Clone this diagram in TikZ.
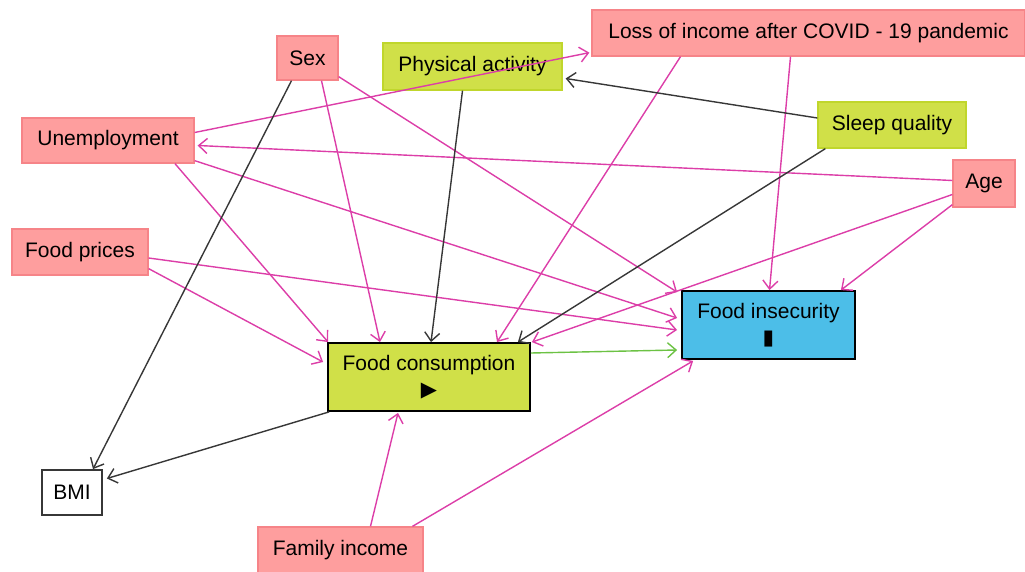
\documentclass[tikz,border=0pt]{standalone}
\usepackage{fontspec}
\setmainfont{Liberation Sans}
\newfontfamily\symb{DejaVu Sans}
\usetikzlibrary{arrows.meta}
\definecolor{confill}{RGB}{254,158,158}
\definecolor{condraw}{RGB}{246,132,136}
\definecolor{ancfill}{RGB}{208,224,72}
\definecolor{ancdraw}{RGB}{192,214,44}
\definecolor{outfill}{RGB}{76,190,232}
\definecolor{biasline}{RGB}{220,62,168}
\definecolor{darkline}{RGB}{55,55,55}
\definecolor{causeline}{RGB}{108,194,68}
\tikzset{var/.style={draw,line width=1.3pt,inner sep=0pt,align=center,font=\fontsize{21}{26}\selectfont},
  conf/.style={var,fill=confill,draw=condraw},
  anc/.style={var,fill=ancfill,draw=ancdraw},
  expo/.style={var,fill=ancfill,draw=black,line width=1.8pt},
  outc/.style={var,fill=outfill,draw=black,line width=1.8pt},
  other/.style={var,fill=white,draw=darkline,line width=1.8pt},
  bias/.style={->,biasline,line width=1.4pt},
  arr/.style={->,darkline,line width=1.4pt},
  causal/.style={->,causeline,line width=1.4pt}}

\begin{document}
\begin{tikzpicture}[x=1pt,y=-1pt,>={Straight Barb[length=8.5pt,width=15pt]}]
\useasboundingbox (0,0) rectangle (1025,572);
% variables
\node[conf,minimum width=61,minimum height=44] (sex) at (307.5,58) {Sex};
\node[anc,minimum width=179,minimum height=47] (pa) at (472.5,66.5) {Physical activity};
\node[conf,minimum width=433,minimum height=46] (loss) at (808.5,33) {Loss of income after COVID - 19 pandemic};
\node[conf,minimum width=172,minimum height=45] (unemp) at (108,140.5) {Unemployment};
\node[anc,minimum width=148,minimum height=46] (sleep) at (892,125) {Sleep quality};
\node[conf,minimum width=62,minimum height=47] (age) at (984,183.5) {Age};
\node[conf,minimum width=136,minimum height=46] (prices) at (80,252) {Food prices};
\node[outc,minimum width=173,minimum height=68] (fi) at (768.5,325) {Food insecurity\\{\symb ▮}};
\node[expo,minimum width=202,minimum height=68] (fc) at (429,377) {Food consumption\\{\symb ▶}};
\node[other,minimum width=60,minimum height=45] (bmi) at (72,492.5) {BMI};
\node[conf,minimum width=165,minimum height=46] (fam) at (340.5,550) {Family income};
% pink paths
\draw[bias] ([shift={(0,-8)}]unemp.east) -- ([shift={(-2,-4)}]loss.south west);
\draw[bias] ([shift={(0,-3)}]age.west) -- ([shift={(3,5)}]unemp.east);
\draw[bias] ([shift={(14,0)}]sex.south) -- ([shift={(-49,0)}]fc.north);
\draw[bias] ([shift={(0,-4)}]sex.south east) -- ([shift={(-4,2)}]fi.north west);
\draw[bias] ([shift={(67,0)}]unemp.south) -- ([shift={(1,0)}]fc.north west);
\draw[bias] ([shift={(0,-3)}]unemp.south east) -- ([shift={(-4,-7)}]fi.west);
\draw[bias] ([shift={(0,-7)}]prices.south east) -- ([shift={(-4,-15)}]fc.west);
\draw[bias] ([shift={(0,6)}]prices.east) -- ([shift={(-4,5)}]fi.west);
\draw[bias] ([shift={(-128,0)}]loss.south) -- ([shift={(68,0)}]fc.north);
\draw[bias] ([shift={(-18,0)}]loss.south) -- ([shift={(1,0)}]fi.north);
\draw[bias] ([shift={(0,11)}]age.west) -- ([shift={(1,0)}]fc.north east);
\draw[bias] ([shift={(0,-3)}]age.south west) -- ([shift={(-15,0)}]fi.north east);
\draw[bias] ([shift={(30,0)}]fam.north) -- ([shift={(-31,1)}]fc.south);
\draw[bias] ([shift={(72,0)}]fam.north) -- ([shift={(12,1)}]fi.south west);
% black paths
\draw[arr] ([shift={(-16,0)}]sex.south) -- ([shift={(21,0)}]bmi.north);
\draw[arr] ([shift={(-10,0)}]pa.south) -- ([shift={(2,0)}]fc.north);
\draw[arr] ([shift={(0,-7)}]sleep.west) -- ([shift={(3,12)}]pa.east);
\draw[arr] ([shift={(8,0)}]sleep.south west) -- ([shift={(-13,0)}]fc.north east);
\draw[arr] ([shift={(2,0)}]fc.south west) -- ([shift={(4,-14)}]bmi.east);
% causal path
\draw[causal] ([shift={(0,-24)}]fc.east) -- ([shift={(-4,25)}]fi.west);
\end{tikzpicture}
\end{document}
